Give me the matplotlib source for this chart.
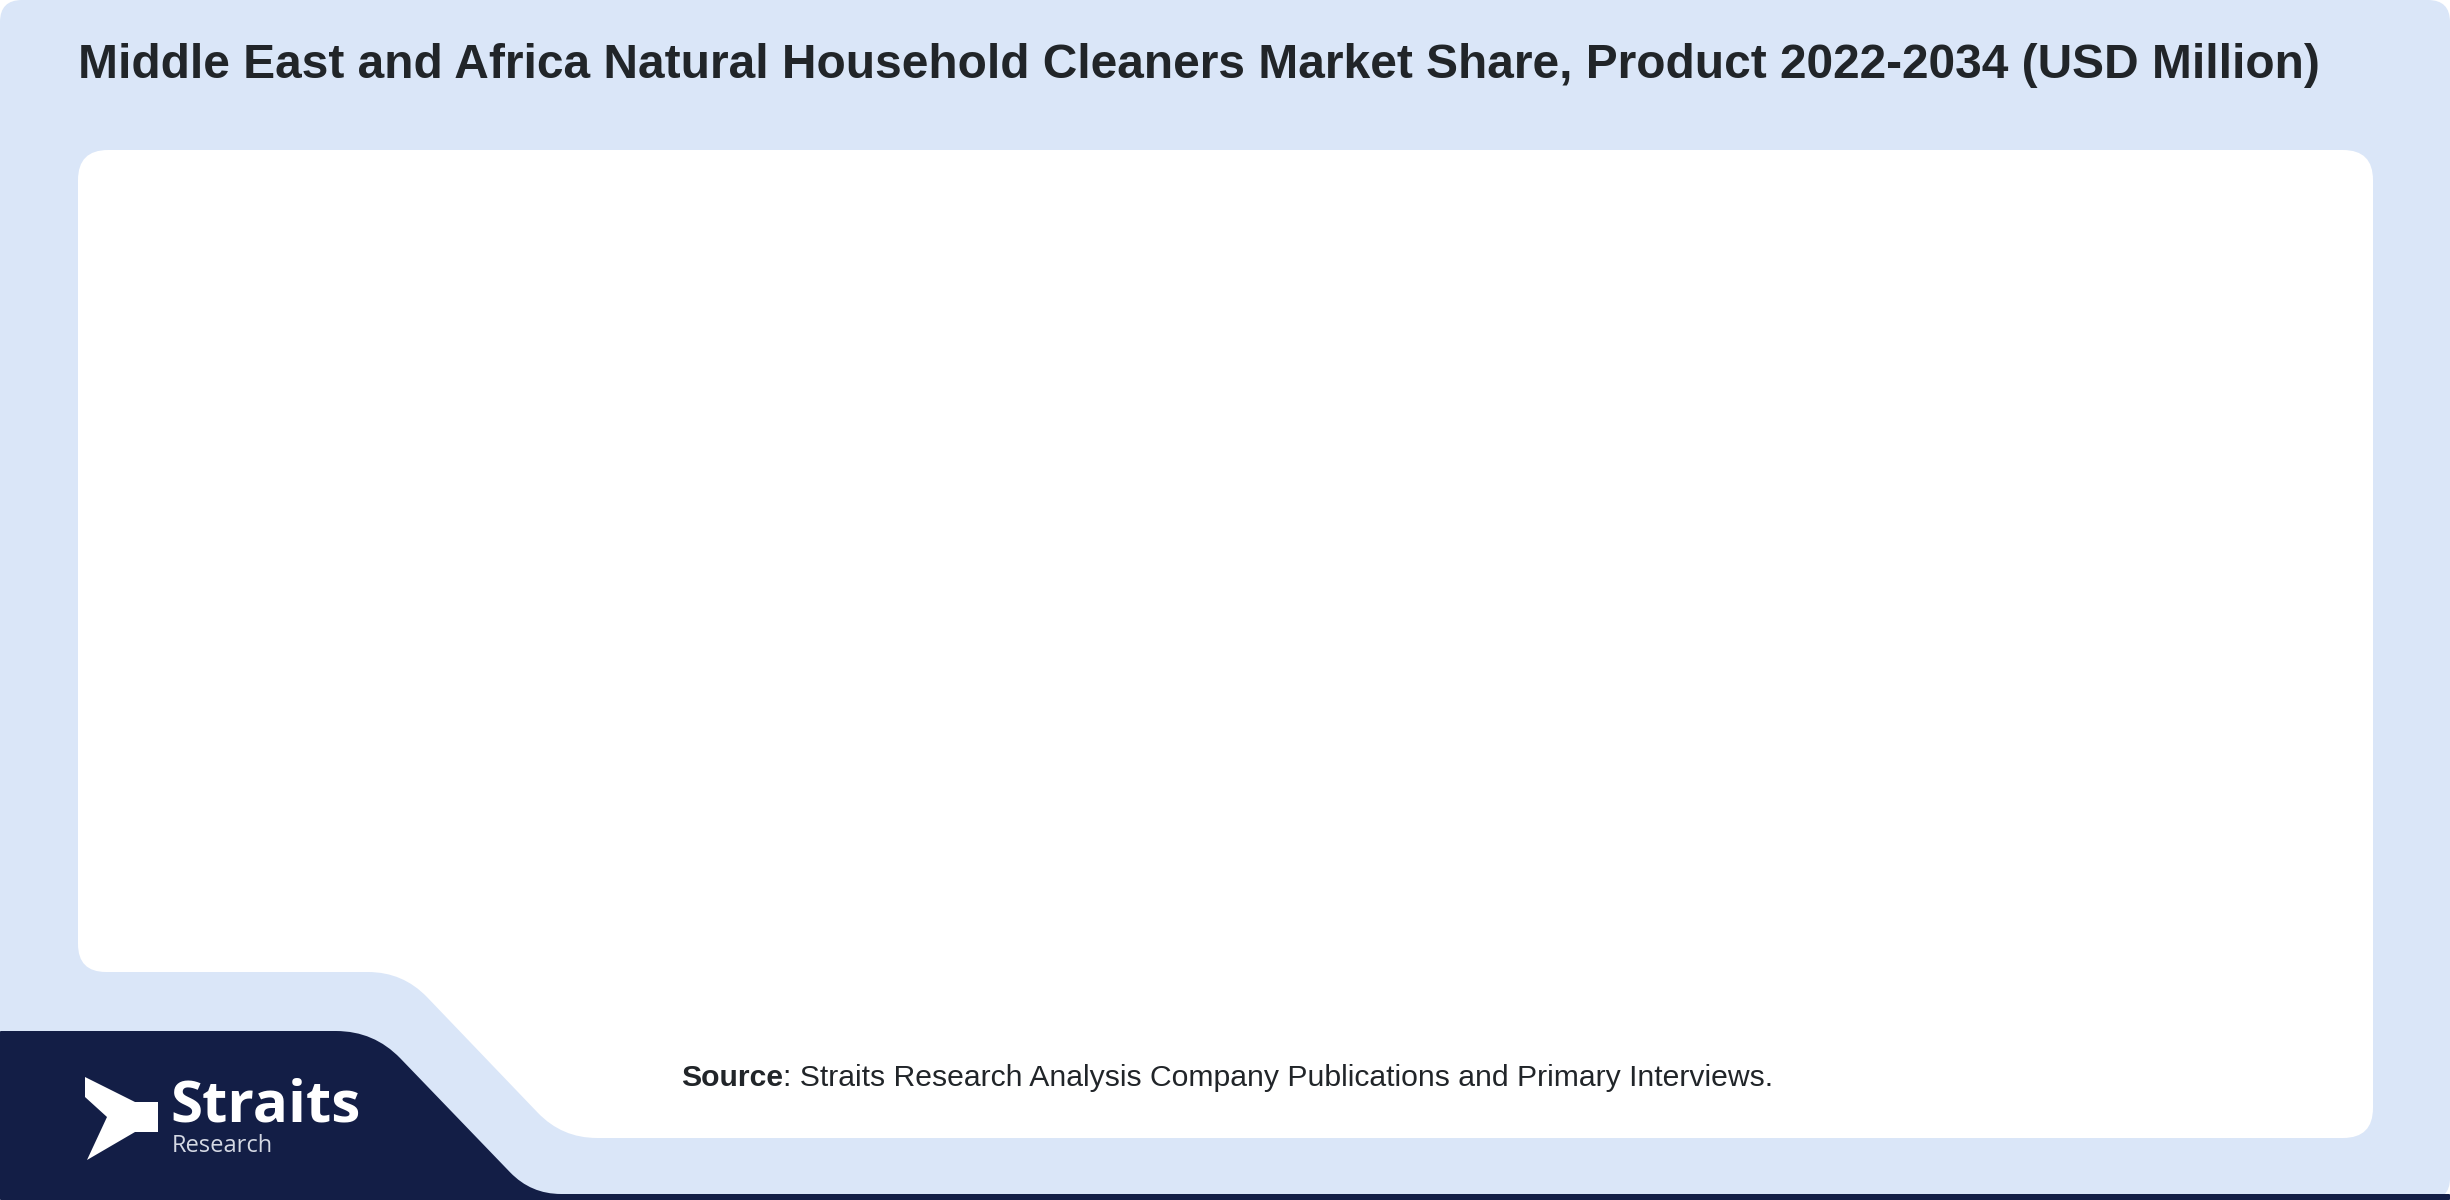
import matplotlib.pyplot as plt
from matplotlib.path import Path
from matplotlib.patches import PathPatch, FancyBboxPatch, Polygon

plt.rcParams['font.family'] = ['Liberation Sans', 'DejaVu Sans']

# Texts
title = "Middle East and Africa Natural Household Cleaners Market Share, Product 2022-2034 (USD Million)"
source_bold = "Source"
source_rest = ": Straits Research Analysis Company Publications and Primary Interviews."
logo_main = "Straits"
logo_sub = "Research"

# Colours
bg_blue = "#dae6f8"
navy = "#131e46"
text_dark = "#212529"

W, H = 2450, 1200


def rounded_path(pts, radii):
    # closed polygon with rounded corners (quadratic curves at each vertex)
    n = len(pts)
    verts, codes = [], []
    for i in range(n):
        p0 = pts[i - 1]
        p1 = pts[i]
        p2 = pts[(i + 1) % n]
        r = radii[i]
        d1 = ((p1[0] - p0[0]) ** 2 + (p1[1] - p0[1]) ** 2) ** 0.5
        d2 = ((p2[0] - p1[0]) ** 2 + (p2[1] - p1[1]) ** 2) ** 0.5
        a = (p1[0] - (p1[0] - p0[0]) * r / d1, p1[1] - (p1[1] - p0[1]) * r / d1)
        b = (p1[0] + (p2[0] - p1[0]) * r / d2, p1[1] + (p2[1] - p1[1]) * r / d2)
        verts.append(a)
        codes.append(Path.MOVETO if i == 0 else Path.LINETO)
        verts += [p1, b]
        codes += [Path.CURVE3, Path.CURVE3]
    verts.append(verts[0])
    codes.append(Path.CLOSEPOLY)
    return Path(verts, codes)


fig = plt.figure(figsize=(24.5, 12), dpi=100)
fig.patch.set_facecolor("white")
ax = fig.add_axes([0, 0, 1, 1])
ax.set_xlim(0, W)
ax.set_ylim(H, 0)
ax.axis("off")

# light blue card
ax.add_patch(FancyBboxPatch((0, 0), W, H, boxstyle="round,pad=0,rounding_size=22",
                            fc=bg_blue, ec="none"))

# white panel with notch bottom-left
panel = [(78, 150), (2373, 150), (2373, 1138), (562, 1138), (403, 972), (78, 972)]
ax.add_patch(PathPatch(rounded_path(panel, [30, 30, 30, 35, 35, 28]), fc="white", ec="none"))

# navy footer
footer = [(0, 1031), (374, 1031), (531, 1194), (W, 1194), (W, H), (0, H)]
ax.add_patch(PathPatch(rounded_path(footer, [1, 38, 30, 1, 1, 1]), fc=navy, ec="none"))

# logo
arrow = [(85, 1077), (135, 1102), (158, 1102), (158, 1132), (135, 1132),
         (87, 1160), (107, 1117), (85, 1097)]
ax.add_patch(Polygon(arrow, closed=True, fc="white", ec="none"))
ax.text(170, 1106, logo_main, fontsize=42, fontweight="bold", color="white",
        family=["Open Sans", "DejaVu Sans"], ha="left", va="center")
ax.text(172, 1146, logo_sub, fontsize=17, color="#d5d9e4",
        family=["Open Sans", "DejaVu Sans"], ha="left", va="center")

# title
ax.text(78, 66, title, fontsize=34.5, fontweight="bold", color=text_dark,
        ha="left", va="center")

# source line
t = ax.text(681, 1078, source_bold, fontsize=21.7, fontweight="bold", color=text_dark,
            ha="left", va="center")
ax.annotate(source_rest, xy=(1, 0.5), xycoords=t, fontsize=21.7, color=text_dark,
            ha="left", va="center")

fig.savefig("out.png", dpi=100, facecolor=fig.get_facecolor())
